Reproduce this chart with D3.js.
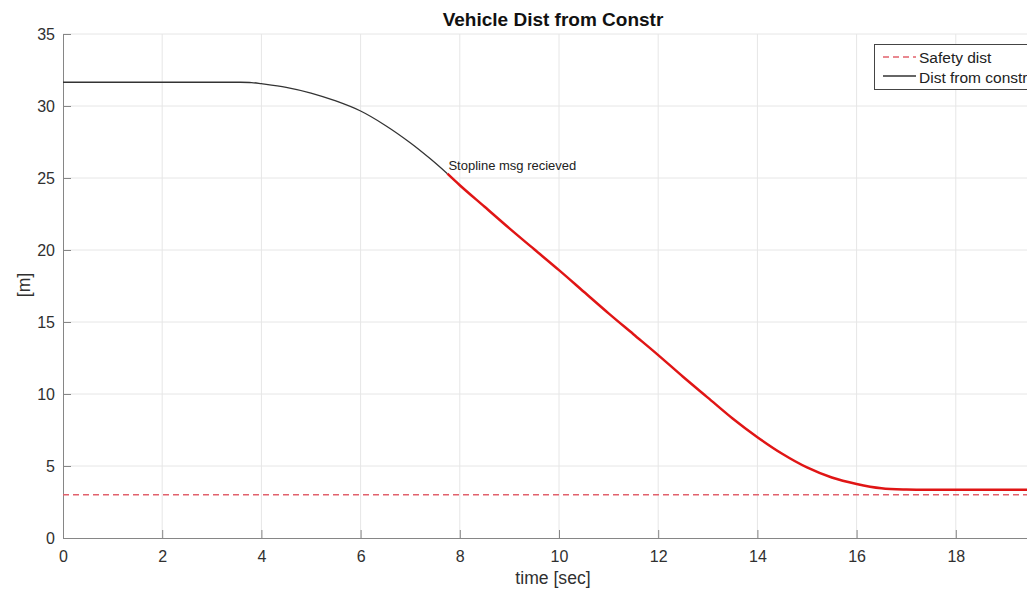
<!DOCTYPE html>
<html>
<head>
<meta charset="utf-8">
<script src="https://cdn.jsdelivr.net/npm/d3@7"></script>
<style>
  body { margin: 0; background: #fff; }
  svg { font-family: "Liberation Sans", Arial, sans-serif; }
</style>
</head>
<body>
<script>
const w = 1027;
const h = 590;

// series
const blackT = [0, 1, 2, 3, 3.5, 3.8, 4, 4.5, 5, 5.5, 6, 6.5, 7, 7.4, 7.75];
const blackD = [31.65, 31.65, 31.65, 31.65, 31.65, 31.63, 31.55, 31.3, 30.9, 30.35, 29.65, 28.65, 27.45, 26.35, 25.3];
const redT = [7.75, 8, 8.5, 9, 9.5, 10, 10.5, 11, 11.5, 12, 12.5, 13, 13.5, 14, 14.5, 15, 15.5, 16, 16.5, 17, 17.5, 18, 19, 20];
const redD = [25.3, 24.5, 23.0, 21.5, 20.05, 18.6, 17.1, 15.6, 14.15, 12.7, 11.2, 9.75, 8.3, 7.0, 5.85, 4.9, 4.2, 3.75, 3.45, 3.36, 3.35, 3.35, 3.35, 3.35];
const safetyDist = 3;
const xTicks = [0, 2, 4, 6, 8, 10, 12, 14, 16, 18, 20];
const xTickLabels = ["0", "2", "4", "6", "8", "10", "12", "14", "16", "18", ""];
const yTicks = [0, 5, 10, 15, 20, 25, 30, 35];
const legendLabels = ["Safety dist", "Dist from constr"];

const svg = d3.select("body").append("svg").attr("width", w).attr("height", h);

const x = d3.scaleLinear().domain([0, 20]).range([63, 1055]);
const y = d3.scaleLinear().domain([0, 35]).range([538, 34]);

// grid
svg.append("g")
  .selectAll("line")
  .data(xTicks.slice(1))
  .enter()
  .append("line")
  .attr("x1", d => x(d)).attr("x2", d => x(d))
  .attr("y1", y(0)).attr("y2", y(35))
  .attr("stroke", "#e6e6e6");
svg.append("g")
  .selectAll("line")
  .data(yTicks.slice(1))
  .enter()
  .append("line")
  .attr("x1", x(0)).attr("x2", x(20))
  .attr("y1", d => y(d)).attr("y2", d => y(d))
  .attr("stroke", "#e6e6e6");

// axes
const xAxis = svg.append("g")
  .attr("transform", "translate(0," + y(0) + ")")
  .call(d3.axisBottom(x).tickValues(xTicks).tickFormat((d, i) => xTickLabels[i])
    .tickSizeInner(-8).tickSizeOuter(0).tickPadding(13));
const yAxis = svg.append("g")
  .attr("transform", "translate(" + x(0) + ",0)")
  .call(d3.axisLeft(y).tickValues(yTicks).tickSizeInner(-8).tickSizeOuter(0).tickPadding(8));

[xAxis, yAxis].forEach(a => {
  a.select(".domain").attr("stroke", "#868686");
  a.selectAll(".tick line").attr("stroke", "#868686");
  a.selectAll("text").attr("fill", "#303030").style("font-size", "16px");
});

// safety dist
svg.append("line")
  .attr("x1", x(0)).attr("x2", x(20))
  .attr("y1", y(safetyDist)).attr("y2", y(safetyDist))
  .attr("stroke", "#e2616c")
  .attr("stroke-width", 1.5)
  .attr("stroke-dasharray", "6,4");

const line = d3.line().x(d => x(d[0])).y(d => y(d[1])).curve(d3.curveCatmullRom.alpha(0.5));

svg.append("path")
  .datum(blackT.map((t, i) => [t, blackD[i]]))
  .attr("d", line)
  .attr("fill", "none")
  .attr("stroke", "#333")
  .attr("stroke-width", 1.3);

svg.append("path")
  .datum(redT.map((t, i) => [t, redD[i]]))
  .attr("d", line)
  .attr("fill", "none")
  .attr("stroke", "#e01515")
  .attr("stroke-width", 2.5);

// annotation
svg.append("text")
  .attr("x", x(7.75) + 1)
  .attr("y", 170)
  .style("font-size", "13px")
  .attr("fill", "#222")
  .text("Stopline msg recieved");

// title and labels
svg.append("text")
  .attr("x", 553).attr("y", 26)
  .attr("text-anchor", "middle")
  .style("font-size", "19px")
  .style("font-weight", "bold")
  .attr("fill", "#111")
  .text("Vehicle Dist from Constr");

svg.append("text")
  .attr("transform", "translate(553,584)")
  .attr("text-anchor", "middle")
  .style("font-size", "17.6px")
  .attr("fill", "#303030")
  .text("time [sec]");

svg.append("text")
  .attr("transform", "translate(30,285) rotate(-90)")
  .attr("text-anchor", "middle")
  .style("font-size", "17.6px")
  .attr("fill", "#303030")
  .text("[m]");

// legend
const lg = svg.append("g");
lg.append("rect")
  .attr("x", 874.5).attr("y", 44.5)
  .attr("width", 200).attr("height", 45)
  .attr("fill", "#fff")
  .attr("stroke", "#444");
lg.append("line")
  .attr("x1", 883).attr("x2", 916).attr("y1", 57).attr("y2", 57)
  .attr("stroke", "#e2616c").attr("stroke-width", 1.5).attr("stroke-dasharray", "6,4");
lg.append("line")
  .attr("x1", 883).attr("x2", 916).attr("y1", 76).attr("y2", 76)
  .attr("stroke", "#333").attr("stroke-width", 1.3);
lg.selectAll("text")
  .data(legendLabels)
  .enter()
  .append("text")
  .attr("x", 919)
  .attr("y", (d, i) => 63 + i * 19.5)
  .style("font-size", "15.5px")
  .attr("fill", "#222")
  .text(d => d);
</script>
</body>
</html>
